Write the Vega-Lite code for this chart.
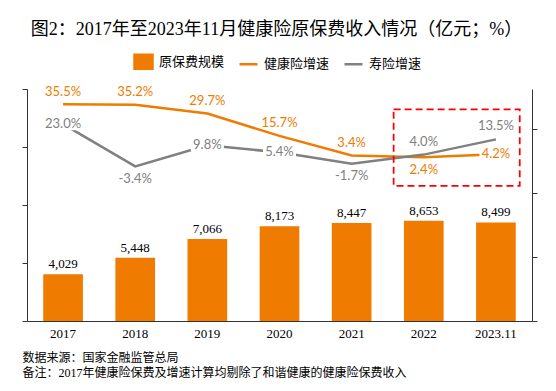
{
  "$schema": "https://vega.github.io/schema/vega-lite/v6.json",
  "width": 505,
  "height": 232,
  "autosize": {"type": "none"},
  "padding": {"left": 27, "top": 89, "right": 24, "bottom": 70},
  "background": "white",
  "title": {
    "text": "图2：2017年至2023年11月健康险原保费收入情况（亿元；%）",
    "font": "Liberation Serif, Noto Sans CJK SC",
    "fontSize": 18,
    "fontWeight": "normal",
    "color": "#000000",
    "anchor": "middle",
    "offset": 12,
    "dx": -3
  },
  "config": {
    "view": {"stroke": null},
    "axis": {"domainColor": "#333333", "tickColor": "#333333", "grid": false, "domainWidth": 1, "tickWidth": 1}
  },
  "data": {
    "values": [
      {"year": "2017", "premium": 4029, "health": 35.5, "life": 23.0},
      {"year": "2018", "premium": 5448, "health": 35.2, "life": -3.4},
      {"year": "2019", "premium": 7066, "health": 29.7, "life": 9.8},
      {"year": "2020", "premium": 8173, "health": 15.7, "life": 5.4},
      {"year": "2021", "premium": 8447, "health": 3.4, "life": -1.7},
      {"year": "2022", "premium": 8653, "health": 2.4, "life": 4.0},
      {"year": "2023.11", "premium": 8499, "health": 4.2, "life": 13.5}
    ]
  },
  "resolve": {"scale": {"y": "independent"}},
  "layer": [
    {
      "layer": [
        {
          "mark": {"type": "bar"},
          "encoding": {
            "x": {
              "field": "year", "type": "nominal", "sort": null,
              "scale": {"domain": ["2017","2018","2019","2020","2021","2022","2023.11"], "paddingInner": 0.45, "paddingOuter": 0.225},
              "axis": {
                "title": ["数据来源：国家金融监管总局", "备注：2017年健康险保费及增速计算均剔除了和谐健康的健康险保费收入"],
                "labelAngle": 0, "ticks": false, "tickSize": 0, "labelPadding": 6,
                "labelFont": "Liberation Serif", "labelFontSize": 13, "labelColor": "#000000",
                "titleX": -5, "titleY": 40, "titleAnchor": "start", "titleAlign": "left",
                "titleBaseline": "alphabetic", "titleLineHeight": 15,
                "titleFont": "Liberation Serif, Noto Sans CJK SC", "titleFontSize": 12,
                "titleFontWeight": "normal", "titleColor": "#000000"
              }
            },
            "y": {
              "field": "premium", "type": "quantitative", "title": null,
              "scale": {"domain": [0, 20000], "nice": false},
              "axis": {"orient": "left", "labels": false, "title": null, "tickSize": 5, "values": [0, 5000, 10000, 15000, 20000]}
            },
            "color": {
              "datum": "原保费规模",
              "scale": {"domain": ["原保费规模", "健康险增速", "寿险增速"], "range": ["#EF7B00", "#EF7B00", "#808080"]},
              "legend": {
                "orient": "none", "legendX": 106, "legendY": -38, "direction": "horizontal",
                "title": null, "padding": 0,
                "labelFont": "Noto Sans CJK SC", "labelFontSize": 13, "labelColor": "#000000",
                "labelOffset": 5, "columnPadding": 9, "symbolSize": 324, "symbolStrokeWidth": 2.5,
                "encode": {
                  "symbols": {
                    "update": {
                      "shape": {"signal": "datum.value === '原保费规模' ? 'M-1,-0.78H1V0.78H-1Z' : 'stroke'"},
                      "fill": {"signal": "datum.value === '原保费规模' ? '#EF7B00' : 'transparent'"},
                      "stroke": {"signal": "datum.value === '原保费规模' ? 'transparent' : (datum.value === '健康险增速' ? '#EF7B00' : '#808080')"},
                      "strokeWidth": {"value": 2.5},
                      "opacity": {"value": 1},
                      "fillOpacity": {"value": 1},
                      "strokeOpacity": {"value": 1}
                    }
                  }
                }
              }
            }
          }
        },
        {
          "mark": {"type": "text", "dy": -6, "baseline": "alphabetic", "font": "Liberation Serif", "fontSize": 13, "color": "#000000"},
          "encoding": {
            "x": {"field": "year", "type": "nominal", "sort": null},
            "y": {"field": "premium", "type": "quantitative", "title": null},
            "text": {"field": "premium", "type": "quantitative", "format": ",d"}
          }
        }
      ]
    },
    {
      "transform": [
        {"calculate": "replace(format(datum.health, '.1f'), '−', '-') + '%'", "as": "hlab"},
        {"calculate": "replace(format(datum.life, '.1f'), '−', '-') + '%'", "as": "llab"}
      ],
      "layer": [
        {
          "mark": {"type": "line", "strokeWidth": 2.5},
          "encoding": {
            "x": {"field": "year", "type": "nominal", "sort": null},
            "y": {
              "field": "health", "type": "quantitative", "title": null,
              "scale": {"domain": [-100, 45], "nice": false, "zero": false},
              "axis": {"orient": "right", "labels": false, "title": null, "tickSize": 5, "values": [-100, -80, -60, -40, -20, 0, 20, 40]}
            },
            "color": {"datum": "健康险增速"}
          }
        },
        {
          "mark": {"type": "line", "strokeWidth": 2.5},
          "encoding": {
            "x": {"field": "year", "type": "nominal", "sort": null},
            "y": {"field": "life", "type": "quantitative", "title": null},
            "color": {"datum": "寿险增速"}
          }
        },
        {
          "transform": [{"filter": "indexof(['2017','2019','2020'], datum.year) >= 0"}],
          "mark": {"type": "point", "shape": "M-1,-0.36H1V0.36H-1Z", "size": 1089, "filled": true, "fill": "white", "opacity": 1, "strokeWidth": 0},
          "encoding": {
            "x": {"field": "year", "type": "nominal", "sort": null},
            "y": {"field": "life", "type": "quantitative", "title": null}
          }
        },
        {
          "transform": [{"filter": "datum.year === '2023.11'"}],
          "mark": {"type": "point", "shape": "M-1,-0.36H1V0.36H-1Z", "size": 1089, "filled": true, "fill": "white", "opacity": 1, "strokeWidth": 0},
          "encoding": {
            "x": {"field": "year", "type": "nominal", "sort": null},
            "y": {"field": "health", "type": "quantitative", "title": null}
          }
        },
        {
          "transform": [{"filter": "datum.year === '2022'"}],
          "mark": {"type": "rect", "fill": "transparent", "stroke": "#FF0000", "strokeWidth": 1.75, "strokeDash": [7, 4]},
          "encoding": {
            "x": {"datum": "2022", "bandPosition": -0.26},
            "x2": {"datum": "2023.11", "bandPosition": 1.1},
            "y": {"datum": 32.3},
            "y2": {"datum": -15.6}
          }
        },
        {
          "transform": [{"filter": "indexof(['2017','2018','2019','2020','2021'], datum.year) >= 0"}],
          "mark": {"type": "text", "dy": -12.5, "baseline": "middle", "font": "Lato", "fontSize": 13, "color": "#EF7B00"},
          "encoding": {
            "x": {"field": "year", "type": "nominal", "sort": null},
            "y": {"field": "health", "type": "quantitative", "title": null},
            "text": {"field": "hlab"}
          }
        },
        {
          "transform": [{"filter": "datum.year === '2022'"}],
          "mark": {"type": "text", "dy": 12.5, "baseline": "middle", "font": "Lato", "fontSize": 13, "color": "#EF7B00"},
          "encoding": {
            "x": {"field": "year", "type": "nominal", "sort": null},
            "y": {"field": "health", "type": "quantitative", "title": null},
            "text": {"field": "hlab"}
          }
        },
        {
          "transform": [{"filter": "datum.year === '2023.11'"}],
          "mark": {"type": "text", "dy": 0, "baseline": "middle", "font": "Lato", "fontSize": 13, "color": "#EF7B00"},
          "encoding": {
            "x": {"field": "year", "type": "nominal", "sort": null},
            "y": {"field": "health", "type": "quantitative", "title": null},
            "text": {"field": "hlab"}
          }
        },
        {
          "transform": [{"filter": "indexof(['2022','2023.11'], datum.year) >= 0"}],
          "mark": {"type": "text", "dy": -13, "baseline": "middle", "font": "Lato", "fontSize": 13, "color": "#808080"},
          "encoding": {
            "x": {"field": "year", "type": "nominal", "sort": null},
            "y": {"field": "life", "type": "quantitative", "title": null},
            "text": {"field": "llab"}
          }
        },
        {
          "transform": [{"filter": "indexof(['2018','2021'], datum.year) >= 0"}],
          "mark": {"type": "text", "dy": 12.5, "baseline": "middle", "font": "Lato", "fontSize": 13, "color": "#808080"},
          "encoding": {
            "x": {"field": "year", "type": "nominal", "sort": null},
            "y": {"field": "life", "type": "quantitative", "title": null},
            "text": {"field": "llab"}
          }
        },
        {
          "transform": [{"filter": "indexof(['2017','2019','2020'], datum.year) >= 0"}],
          "mark": {"type": "text", "dy": 0, "baseline": "middle", "font": "Lato", "fontSize": 13, "color": "#808080"},
          "encoding": {
            "x": {"field": "year", "type": "nominal", "sort": null},
            "y": {"field": "life", "type": "quantitative", "title": null},
            "text": {"field": "llab"}
          }
        }
      ]
    }
  ]
}
